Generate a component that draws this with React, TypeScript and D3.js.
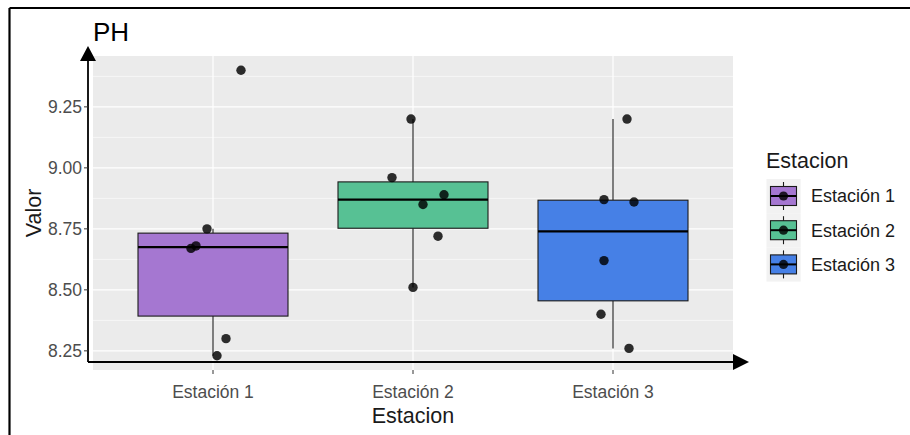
import * as d3 from "d3";
import React from "react";

// data (pH per station), jitter in category units
const stations = ["Estación 1", "Estación 2", "Estación 3"];
const phEst1 = [9.4, 8.75, 8.67, 8.68, 8.3, 8.23];
const phEst2 = [9.2, 8.96, 8.89, 8.85, 8.72, 8.51];
const phEst3 = [9.2, 8.87, 8.86, 8.62, 8.4, 8.26];
const jitEst1 = [0.14, -0.03, -0.11, -0.085, 0.065, 0.02];
const jitEst2 = [-0.01, -0.105, 0.155, 0.05, 0.125, 0];
const jitEst3 = [0.07, -0.045, 0.105, -0.045, -0.06, 0.08];
const fills = ["#A577D1", "#57C194", "#4680E6"];
const yTicks = [8.25, 8.5, 8.75, 9.0, 9.25];

const values = [phEst1, phEst2, phEst3];
const jitters = [jitEst1, jitEst2, jitEst3];

const FONT = "'Liberation Sans', Arial, sans-serif";

const App = () => {
  const width = 910;
  const height = 435;
  const panel = { left: 93, right: 733, top: 56, bottom: 370 };
  const axisX = 88;
  const axisY = 362;

  const all = values.flat();
  const [lo, hi] = d3.extent(all) as [number, number];
  const pad = (hi - lo) * 0.05;

  const x = d3
    .scalePoint()
    .domain(stations)
    .range([panel.left, panel.right])
    .padding(0.6);
  const step = x.step();

  const y = d3
    .scaleLinear()
    .domain([lo - pad, hi + pad])
    .range([panel.bottom, panel.top]);

  const minorTicks = d3
    .range(yTicks[0] - 0.125, hi + pad, 0.25)
    .filter((v) => v > lo - pad && v < hi + pad);

  // box stats (R type 7 quantiles, whiskers at 1.5 IQR)
  const stats = values.map((vals) => {
    const s = [...vals].sort(d3.ascending);
    const q1 = d3.quantile(s, 0.25) as number;
    const med = d3.quantile(s, 0.5) as number;
    const q3 = d3.quantile(s, 0.75) as number;
    const iqr = q3 - q1;
    const wLo = d3.min(s.filter((v) => v >= q1 - 1.5 * iqr)) as number;
    const wHi = d3.max(s.filter((v) => v <= q3 + 1.5 * iqr)) as number;
    return { q1, med, q3, wLo, wHi };
  });

  const boxW = step * 0.75;

  return (
    <div style={{ position: "fixed", left: 0, top: 0 }}>
      <svg width={width} height={height} style={{ display: "block", background: "white" }}>
        {/* outer frame */}
        <line x1={9.5} x2={width} y1={8} y2={8} stroke="black" strokeWidth={2.2} />
        <line x1={9.5} x2={9.5} y1={8} y2={height} stroke="black" strokeWidth={2.2} />

        {/* panel */}
        <rect
          x={panel.left}
          y={panel.top}
          width={panel.right - panel.left}
          height={panel.bottom - panel.top}
          fill="#EBEBEB"
        />
        {minorTicks.map((t) => (
          <line key={"mn" + t} x1={panel.left} x2={panel.right} y1={y(t)} y2={y(t)} stroke="white" strokeWidth={0.6} />
        ))}
        {yTicks.map((t) => (
          <line key={"mj" + t} x1={panel.left} x2={panel.right} y1={y(t)} y2={y(t)} stroke="white" strokeWidth={1.2} />
        ))}
        {stations.map((s) => (
          <line key={"vx" + s} x1={x(s)} x2={x(s)} y1={panel.top} y2={panel.bottom} stroke="white" strokeWidth={1.2} />
        ))}

        {/* boxes */}
        {stations.map((s, i) => {
          const cx = x(s) as number;
          const st = stats[i];
          return (
            <g key={"box" + s}>
              <line x1={cx} x2={cx} y1={y(st.wHi)} y2={y(st.q3)} stroke="#1a1a1a" strokeWidth={1.1} />
              <line x1={cx} x2={cx} y1={y(st.q1)} y2={y(st.wLo)} stroke="#1a1a1a" strokeWidth={1.1} />
              <rect
                x={cx - boxW / 2}
                y={y(st.q3)}
                width={boxW}
                height={y(st.q1) - y(st.q3)}
                fill={fills[i]}
                stroke="#1a1a1a"
                strokeWidth={1.1}
              />
              <line x1={cx - boxW / 2} x2={cx + boxW / 2} y1={y(st.med)} y2={y(st.med)} stroke="black" strokeWidth={2.2} />
            </g>
          );
        })}

        {/* jittered points */}
        {stations.map((s, i) =>
          values[i].map((v, j) => (
            <circle
              key={"pt" + i + "-" + j}
              cx={(x(s) as number) + jitters[i][j] * step}
              cy={y(v)}
              r={4.7}
              fill="black"
              fillOpacity={0.82}
            />
          ))
        )}

        {/* axes with arrows */}
        <line x1={axisX} x2={axisX} y1={axisY} y2={60} stroke="black" strokeWidth={1.8} />
        <path d={`M${axisX},46 L${axisX - 8},61 L${axisX + 8},61 Z`} fill="black" />
        <line x1={axisX} x2={734} y1={axisY} y2={axisY} stroke="black" strokeWidth={1.8} />
        <path d={`M749,${axisY} L733,${axisY - 8} L733,${axisY + 8} Z`} fill="black" />

        {/* y ticks */}
        {yTicks.map((t) => (
          <g key={"yt" + t}>
            <line x1={axisX - 4} x2={axisX} y1={y(t)} y2={y(t)} stroke="#333" strokeWidth={1} />
            <text
              x={axisX - 6}
              y={y(t)}
              dy="0.35em"
              textAnchor="end"
              fontFamily={FONT}
              fontSize={17.5}
              fill="#4D4D4D"
            >
              {d3.format(".2f")(t)}
            </text>
          </g>
        ))}

        {/* x ticks */}
        {stations.map((s) => (
          <g key={"xt" + s}>
            <line x1={x(s)} x2={x(s)} y1={panel.bottom} y2={panel.bottom + 4} stroke="#333" strokeWidth={1} />
            <text
              x={x(s)}
              y={392}
              dy="0.35em"
              textAnchor="middle"
              fontFamily={FONT}
              fontSize={17.5}
              fill="#4D4D4D"
            >
              {s}
            </text>
          </g>
        ))}

        {/* titles */}
        <text x={93} y={41} fontFamily={FONT} fontSize={26} fill="black">
          PH
        </text>
        <text
          transform={`translate(41,${(panel.top + panel.bottom) / 2}) rotate(-90)`}
          textAnchor="middle"
          fontFamily={FONT}
          fontSize={21.5}
          fill="#1a1a1a"
        >
          Valor
        </text>
        <text x={(panel.left + panel.right) / 2} y={423} textAnchor="middle" fontFamily={FONT} fontSize={21.5} fill="#1a1a1a">
          Estacion
        </text>

        {/* legend */}
        <text x={766} y={168} fontFamily={FONT} fontSize={21.5} fill="#1a1a1a">
          Estacion
        </text>
        {stations.map((s, i) => {
          const ky = 179 + i * 34.2;
          const kx = 766.5;
          const cx = kx + 17;
          const cy = ky + 17;
          return (
            <g key={"lg" + s}>
              <rect x={kx} y={ky} width={34.2} height={34.2} fill="#F2F2F2" />
              <line x1={cx} x2={cx} y1={ky + 3} y2={ky + 31} stroke="#1a1a1a" strokeWidth={1.1} />
              <rect x={kx + 4} y={cy - 9.5} width={26} height={19} fill={fills[i]} stroke="#1a1a1a" strokeWidth={1.1} />
              <line x1={kx + 4} x2={kx + 30} y1={cy} y2={cy} stroke="black" strokeWidth={2} />
              <circle cx={cx} cy={cy} r={4.6} fill="black" fillOpacity={0.82} />
              <text x={811} y={cy} dy="0.35em" fontFamily={FONT} fontSize={18} fill="#1a1a1a">
                {s}
              </text>
            </g>
          );
        })}
      </svg>
    </div>
  );
};

export default App;
